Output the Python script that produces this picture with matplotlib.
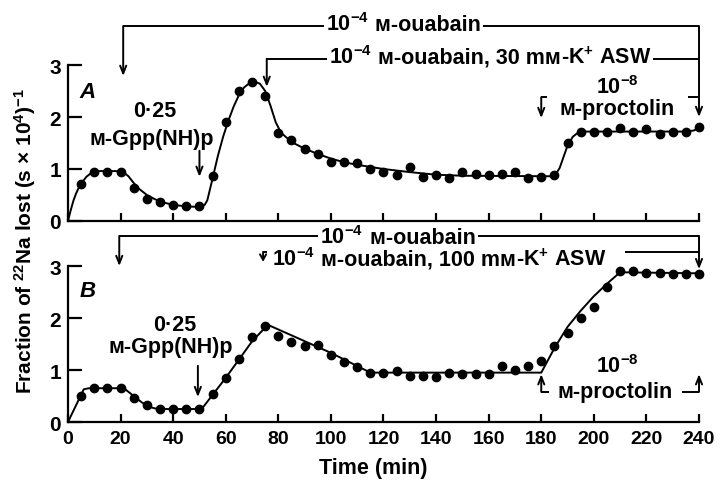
import numpy as np
import matplotlib
matplotlib.use('Agg')
import matplotlib.pyplot as plt
from matplotlib.offsetbox import TextArea, HPacker, AnnotationBbox

plt.rcParams['font.family'] = ['Liberation Sans', 'DejaVu Sans']
plt.rcParams['font.weight'] = 'bold'
plt.rcParams['mathtext.fontset'] = 'custom'
plt.rcParams['mathtext.rm'] = 'Liberation Sans:bold'
plt.rcParams['mathtext.it'] = 'Liberation Sans:bold:italic'
plt.rcParams['mathtext.bf'] = 'Liberation Sans:bold'

# sample times (min) of the measured points
times = [5, 10, 15, 20, 25, 30, 35, 40, 45, 50, 55, 60, 65, 70, 75, 80,
         85, 90, 95, 100, 105, 110, 115, 120, 125, 130, 135, 140, 145, 150,
         155, 160, 165, 170, 175, 180, 185, 190, 195, 200, 205, 210, 215,
         220, 225, 230, 235, 240]

# panel A: 30 mM-K+ ASW
a_points = [0.72, 0.95, 0.95, 0.94, 0.63, 0.42, 0.37, 0.31, 0.28, 0.28,
            0.87, 1.91, 2.50, 2.67, 2.40, 1.70, 1.56, 1.38, 1.29, 1.13,
            1.13, 1.11, 1.00, 0.94, 0.89, 1.03, 0.84, 0.88, 0.83, 0.94,
            0.90, 0.89, 0.90, 0.95, 0.83, 0.84, 0.89, 1.50, 1.72, 1.72,
            1.72, 1.78, 1.72, 1.76, 1.67, 1.71, 1.71, 1.81]
a_curve_t = [0, 1, 2, 3, 4, 5, 7, 9, 12, 18, 21, 23, 25, 27, 30, 33, 36, 40,
             45, 50, 52, 53, 55, 57, 59, 61, 63, 65, 67, 69, 71, 73, 75, 77,
             79, 81, 85, 90, 95, 100, 105, 110, 115, 120, 130, 140, 150, 185,
             187, 190, 192, 194, 197, 235, 238, 240]
a_curve_y = [0, 0.20, 0.38, 0.52, 0.63, 0.72, 0.85, 0.93, 0.96, 0.96, 0.94,
             0.86, 0.73, 0.62, 0.50, 0.42, 0.36, 0.31, 0.28, 0.27, 0.31, 0.40,
             0.82, 1.25, 1.62, 1.93, 2.20, 2.42, 2.57, 2.65, 2.68, 2.64, 2.50,
             2.22, 1.90, 1.70, 1.52, 1.39, 1.29, 1.20, 1.13, 1.08, 1.04, 1.00,
             0.94, 0.89, 0.87, 0.86, 1.02, 1.45, 1.62, 1.70, 1.72, 1.72, 1.74,
             1.79]

# panel B: 100 mM-K+ ASW
b_points = [0.51, 0.65, 0.65, 0.65, 0.46, 0.33, 0.25, 0.25, 0.25, 0.25,
            0.53, 0.85, 1.21, 1.64, 1.85, 1.66, 1.54, 1.46, 1.48, 1.29,
            1.16, 1.05, 0.95, 0.95, 0.99, 0.88, 0.88, 0.86, 0.94, 0.92,
            0.92, 0.93, 1.07, 1.01, 1.08, 1.17, 1.47, 1.72, 2.00, 2.22,
            2.59, 2.90, 2.90, 2.86, 2.86, 2.85, 2.84, 2.84]
b_curve_t = [0, 6, 8, 20, 22, 25, 28, 31, 34, 50, 51, 60, 65, 70, 76, 100,
             115, 180, 185, 190, 195, 200, 205, 210, 240]
b_curve_y = [0, 0.63, 0.65, 0.65, 0.62, 0.50, 0.38, 0.29, 0.25, 0.25, 0.26,
             0.85, 1.20, 1.55, 1.87, 1.33, 0.95, 0.95, 1.42, 1.83, 2.14, 2.42,
             2.66, 2.88, 2.86]

x_ticks = [0, 20, 40, 60, 80, 100, 120, 140, 160, 180, 200, 220, 240]
y_ticks = [0, 1, 2, 3]

FS = 15.5
LW = 1.4
SM = '\u1d0d'  # small capital M


def line(ax, xs, ys):
    ax.plot(xs, ys, color='black', lw=LW, clip_on=False, solid_capstyle='butt')


def arrow(ax, x, y_from, y_to, head=0.55):
    ax.annotate('', xy=(x, y_to), xytext=(x, y_from), annotation_clip=False,
                arrowprops=dict(arrowstyle=f'->,head_length={head},head_width=0.22',
                                lw=LW, color='black', shrinkA=0, shrinkB=0))


def rich(ax, x, y, parts, white=True, align=(0.5, 0.5)):
    areas = [TextArea(p, textprops=dict(fontsize=FS, fontweight='bold'))
             for p in parts]
    box = HPacker(children=areas, align='baseline', pad=0, sep=0)
    ab = AnnotationBbox(box, (x, y), xycoords='data', frameon=white,
                        box_alignment=align, pad=0.15,
                        bboxprops=dict(facecolor='white', edgecolor='none'),
                        annotation_clip=False, zorder=5)
    ax.add_artist(ab)


def text(ax, x, y, s):
    ax.text(x, y, s, ha='center', va='center', fontsize=FS, fontweight='bold',
            clip_on=False)


def style_axes(ax, show_xlabels):
    ax.set_xlim(0, 240)
    ax.set_ylim(0, 3)
    for side in ('top', 'right'):
        ax.spines[side].set_visible(False)
    for side in ('left', 'bottom'):
        ax.spines[side].set_linewidth(1.6)
    ax.set_xticks(x_ticks)
    ax.set_yticks(y_ticks)
    ax.tick_params(axis='x', direction='in', length=6, width=1.6,
                   labelsize=14, pad=6, labelbottom=show_xlabels)
    ax.tick_params(axis='y', direction='in', length=10, width=1.6,
                   labelsize=15, pad=5)
    for lab in ax.get_xticklabels() + ax.get_yticklabels():
        lab.set_fontweight('bold')


fig = plt.figure(figsize=(7.21, 4.85), dpi=100)
ax_a = fig.add_axes([0.0943, 0.5423, 0.8752, 0.3216])
ax_b = fig.add_axes([0.0943, 0.1278, 0.8752, 0.3216])

for ax, pts, ct, cy in ((ax_a, a_points, a_curve_t, a_curve_y),
                        (ax_b, b_points, b_curve_t, b_curve_y)):
    ax.plot(ct, cy, color='black', lw=LW, clip_on=False)
    ax.plot(times, pts, 'o', color='black', ms=6, clip_on=False)

style_axes(ax_a, False)
style_axes(ax_b, True)

# ---- panel A annotations
ax_a.text(7.6, 2.5, 'A', fontsize=16, fontweight='bold', style='italic',
          ha='center', va='center')
line(ax_a, [21, 240], [3.75, 3.75])
arrow(ax_a, 21, 3.75, 2.79)
arrow(ax_a, 240, 3.75, 2.0)
rich(ax_a, 127.5, 3.8, ['10$^{-4}$', f' {SM}-ouabain'])
line(ax_a, [75.6, 240], [3.12, 3.12])
arrow(ax_a, 75.6, 3.12, 2.58)
rich(ax_a, 160.5, 3.17, ['10$^{-4}$', f' {SM}-ouabain, 30 m{SM}', '-K$^{+}$ ASW'])
line(ax_a, [180, 182], [2.38, 2.38])
arrow(ax_a, 180, 2.38, 1.98)
line(ax_a, [236, 240], [2.38, 2.38])
text(ax_a, 209, 2.58, '10$^{-8}$')
text(ax_a, 209, 2.17, f'{SM}-proctolin')
text(ax_a, 33, 2.12, '0\u00b725')
text(ax_a, 32, 1.58, f'{SM}-Gpp(NH)p')
arrow(ax_a, 50, 1.35, 0.85)

# ---- panel B annotations
ax_b.text(7.6, 2.52, 'B', fontsize=16, fontweight='bold', style='italic',
          ha='center', va='center')
line(ax_b, [19.5, 240], [3.58, 3.58])
arrow(ax_b, 19.5, 3.58, 3.0)
arrow(ax_b, 240, 3.58, 2.94)
rich(ax_b, 125.5, 3.57, ['10$^{-4}$', f' {SM}-ouabain'])
line(ax_b, [74.2, 75.8], [3.27, 3.27])
arrow(ax_b, 74.2, 3.27, 3.08, head=0.4)
rich(ax_b, 77.5, 3.15, ['10$^{-4}$', f' {SM}-ouabain, 100 m{SM}', '-K$^{+}$ ASW'],
     white=False, align=(0.0, 0.5))
line(ax_b, [212, 240], [3.27, 3.27])
text(ax_b, 40.7, 1.87, '0\u00b725')
text(ax_b, 39.2, 1.46, f'{SM}-Gpp(NH)p')
arrow(ax_b, 49.4, 1.08, 0.48)
text(ax_b, 209, 1.08, '10$^{-8}$')
text(ax_b, 208, 0.58, f'{SM}-proctolin')
line(ax_b, [180, 183], [0.58, 0.58])
arrow(ax_b, 180, 0.58, 0.92)
line(ax_b, [233.5, 240], [0.58, 0.58])
arrow(ax_b, 240, 0.58, 0.92)

fig.text(0.517, 0.035, 'Time (min)', ha='center', va='center', fontsize=15.5,
         fontweight='bold')
fig.text(0.035, 0.503, 'Fraction of $^{22}$Na lost (s $\\times$ 10$^{4}$)$^{-1}$',
         ha='center', va='center', rotation=90, fontsize=15, fontweight='bold')

fig.savefig('out.png', dpi=100)
